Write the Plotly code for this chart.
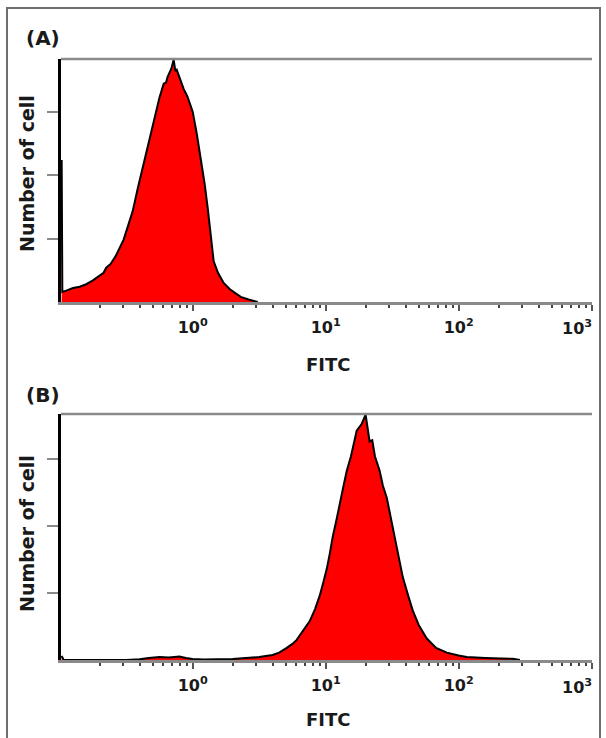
import plotly.graph_objects as go

# ---------------- data ----------------
# Panel A: FITC fluorescence (log10 of channel) and number of cells
a_log_fitc = [-0.985, -0.98, -0.95, -0.90, -0.85, -0.80, -0.75, -0.70, -0.67, -0.65,
              -0.617, -0.58, -0.55, -0.52, -0.489, -0.45, -0.414, -0.38, -0.35, -0.316,
              -0.28, -0.25, -0.218, -0.20, -0.19, -0.16, -0.143, -0.13, -0.12, -0.10,
              -0.068, -0.04, 0.0, 0.03, 0.06, 0.09, 0.113, 0.135, 0.158, 0.19,
              0.233, 0.28, 0.33, 0.361, 0.42, 0.489]
a_cells = [112, 8, 9, 11, 12, 14, 17, 21, 23, 27,
           30, 36, 42, 49, 59, 72, 89, 104, 118, 133,
           149, 161, 172, 173, 177, 184, 191, 182, 183, 177,
           168, 162, 150, 133, 114, 93, 74, 53, 32, 23,
           15, 10, 6, 4, 2, 0]

# Panel B
b_log_fitc = [-0.985, -0.97, -0.5, -0.4, -0.33, -0.25, -0.18, -0.10, -0.05, 0.0,
              0.08, 0.2, 0.3, 0.4, 0.5, 0.6, 0.65, 0.707, 0.75, 0.782,
              0.83, 0.88, 0.92, 0.955, 0.98, 1.008, 1.03, 1.053, 1.08, 1.105,
              1.13, 1.158, 1.19, 1.233, 1.27, 1.30, 1.33, 1.35, 1.37, 1.406,
              1.43, 1.459, 1.49, 1.519, 1.55, 1.579, 1.62, 1.654, 1.70, 1.76,
              1.83, 1.91, 2.0, 2.06, 2.2, 2.3, 2.406, 2.46]
b_cells = [3, 0, 0, 0.5, 1.5, 2.2, 1.8, 2.6, 1.5, 0.7,
           0.4, 0.4, 0.7, 1.5, 2.2, 3.7, 5.5, 9, 12, 15,
           22, 29, 38, 48, 57, 68, 79, 92, 104, 117,
           128, 141, 152, 171, 176, 183, 163, 164, 152, 141,
           130, 121, 106, 92, 77, 62, 48, 37, 26, 16,
           9, 5.5, 3.3, 2.2, 1.5, 1.1, 0.9, 0]

x_tickvals = [1, 10, 100, 1000]
x_ticktext = ["10<sup>0</sup>", "10<sup>1</sup>", "10<sup>2</sup>", "10<sup>3</sup>"]
y_tickvals = [50, 100, 150]
panel_labels = ["(A)", "(B)"]
x_title = "FITC"
y_title = "Number of cell"

# ---------------- figure ----------------
W, H = 606, 738
FONT = "DejaVu Sans"
RED = "#ff0000"

a_x = [10 ** v for v in a_log_fitc]
b_x = [10 ** v for v in b_log_fitc]

fig = go.Figure()
fig.add_trace(go.Scatter(x=a_x, y=a_cells, xaxis="x", yaxis="y", mode="lines",
                         fill="tozeroy", fillcolor=RED,
                         line=dict(color="black", width=2), hoverinfo="skip"))
fig.add_trace(go.Scatter(x=b_x, y=b_cells, xaxis="x2", yaxis="y2", mode="lines",
                         fill="tozeroy", fillcolor=RED,
                         line=dict(color="black", width=2), hoverinfo="skip"))

def px_x(p):
    return p / W

def px_y(p):
    return 1 - p / H

minor_vals = [m * 10 ** k for k in range(-1, 3) for m in range(2, 10)]
tick_font = dict(family=FONT, size=16, color="#1a1a1a", weight="bold")

# the last decade label is drawn right-aligned at its tick (as in the reference)
shown_ticktext = x_ticktext[:-1] + [""]

def xaxis_cfg(anchor):
    return dict(
        type="log", range=[-0.99, 3.002], domain=[px_x(61), px_x(592)], anchor=anchor,
        showline=True, linecolor="#8a8a8a", linewidth=2.5,
        showgrid=False, zeroline=False,
        tickmode="array", tickvals=x_tickvals, ticktext=shown_ticktext,
        ticks="outside", ticklen=6, tickwidth=2, tickcolor="#555",
        ticklabelstandoff=3,
        tickfont=tick_font,
        minor=dict(tickmode="array", tickvals=minor_vals, ticks="outside",
                   ticklen=3, tickwidth=2, tickcolor="#444"),
        fixedrange=True, automargin=False,
    )

def yaxis_cfg(anchor, top, bottom, ymax):
    return dict(
        range=[0, ymax], domain=[px_y(bottom), px_y(top)], anchor=anchor,
        showline=True, linecolor="black", linewidth=2.5,
        showgrid=False, zeroline=False,
        tickmode="array", tickvals=y_tickvals, showticklabels=False,
        ticks="outside", ticklen=11, tickwidth=2, tickcolor="#8a8a8a",
        fixedrange=True, automargin=False,
    )

fig.update_layout(
    width=W, height=H,
    margin=dict(l=0, r=0, t=0, b=0),
    paper_bgcolor="white", plot_bgcolor="white",
    showlegend=False,
    xaxis=xaxis_cfg("y"),
    yaxis=yaxis_cfg("x", 59, 302, 191.5),
    xaxis2=xaxis_cfg("y2"),
    yaxis2=yaxis_cfg("x2", 414, 660, 183.5),
)

# top gray frame line of each panel
for xr, yr in (("x domain", "y domain"), ("x2 domain", "y2 domain")):
    fig.add_shape(type="line", xref=xr, yref=yr, x0=0, x1=1, y0=1, y1=1,
                  line=dict(color="#8a8a8a", width=2.5))

# outer border of the figure
fig.add_shape(type="rect", xref="paper", yref="paper",
              x0=px_x(7), x1=px_x(600), y0=-0.02, y1=px_y(8),
              line=dict(color="#6e6e6e", width=2), fillcolor="rgba(0,0,0,0)")

ann_font = dict(family=FONT, color="#1a1a1a", weight="bold")
annotations = [
    dict(text=panel_labels[0], x=px_x(43), y=px_y(38), font=dict(size=20, **ann_font)),
    dict(text=panel_labels[1], x=px_x(43), y=px_y(395), font=dict(size=20, **ann_font)),
    dict(text=y_title, x=px_x(27), y=px_y(174), textangle=-90, font=dict(size=19, **ann_font)),
    dict(text=y_title, x=px_x(27), y=px_y(534), textangle=-90, font=dict(size=19, **ann_font)),
    dict(text=x_title, x=px_x(328), y=px_y(364), font=dict(size=18, **ann_font)),
    dict(text=x_title, x=px_x(328), y=px_y(719), font=dict(size=18, **ann_font)),
]
for a in annotations:
    a.update(xref="paper", yref="paper", showarrow=False, xanchor="center", yanchor="middle")

import math
for xr, ypix in (("x", 327), ("x2", 686)):
    annotations.append(dict(text=x_ticktext[-1], xref=xr, yref="paper",
                            x=math.log10(x_tickvals[-1]), y=px_y(ypix),
                            xanchor="right", yanchor="middle", showarrow=False,
                            xshift=2, font=tick_font))
fig.update_layout(annotations=annotations)

fig.write_html("out.html", config={"displayModeBar": False},
               post_script="document.body.style.margin='0';document.body.style.padding='0';")
